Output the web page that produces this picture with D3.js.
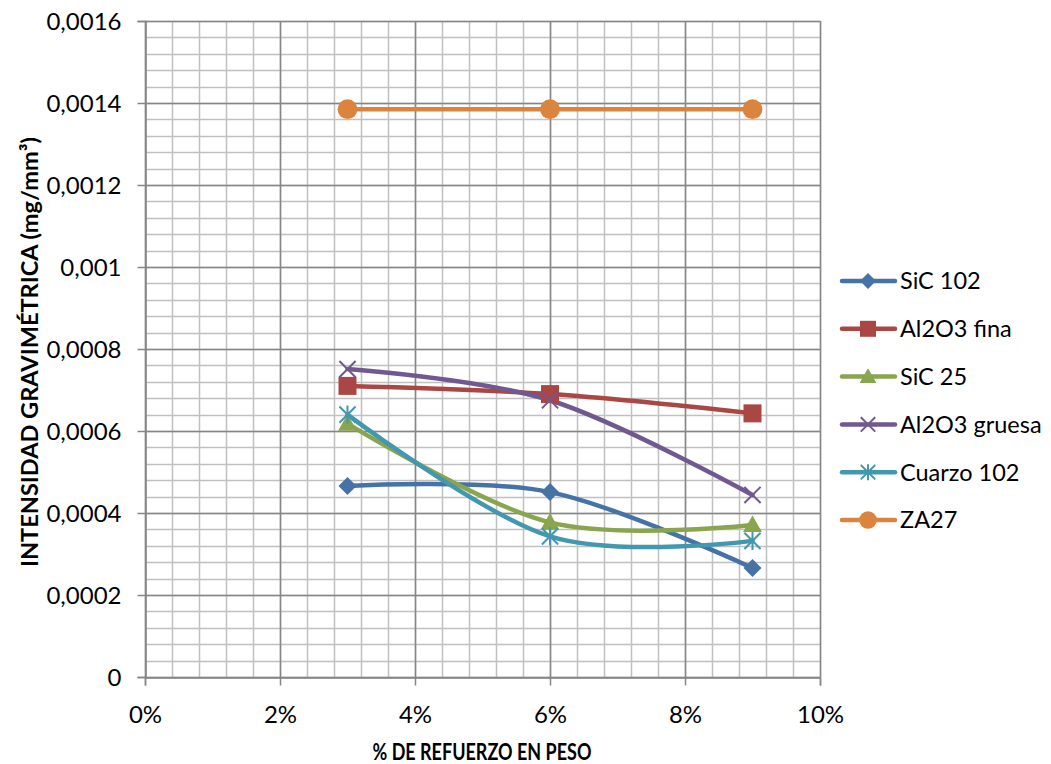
<!DOCTYPE html>
<html>
<head>
<meta charset="utf-8">
<script src="https://cdn.jsdelivr.net/npm/d3@7"></script>
<style>
  html, body { margin: 0; padding: 0; background: #fff; }
  svg text { font-family: Lato, "Open Sans", sans-serif; fill: #000; }
</style>
</head>
<body>
<svg id="chart" width="1051" height="764"></svg>
<script>
// Reinforcement percentages (fraction of weight)
const refuerzo = [0.03, 0.06, 0.09];

// Gravimetric intensity (mg/mm³) for each material
const sic102      = [0.000466, 0.000451, 0.000266];
const al2o3Fina   = [0.000710, 0.000690, 0.000643];
const sic25       = [0.000618, 0.000377, 0.000371];
const al2o3Gruesa = [0.000751, 0.000675, 0.000444];
const cuarzo102   = [0.000640, 0.000343, 0.000332];
const za27        = [0.001385, 0.001385, 0.001385];

const seriesNames = ["SiC 102", "Al2O3 fina", "SiC 25", "Al2O3 gruesa", "Cuarzo 102", "ZA27"];
const xTickValues = [0, 0.02, 0.04, 0.06, 0.08, 0.10];
const yTickValues = [0, 0.0002, 0.0004, 0.0006, 0.0008, 0.001, 0.0012, 0.0014, 0.0016];
const yTickLabels = ["0", "0,0002", "0,0004", "0,0006", "0,0008", "0,001", "0,0012", "0,0014", "0,0016"];
const xTitle = "% DE REFUERZO EN PESO";
const yTitle = "INTENSIDAD GRAVIMÉTRICA (mg/mm³)";

const series = [
  { name: seriesNames[0], values: sic102,      color: "#4572A7", marker: "diamond" },
  { name: seriesNames[1], values: al2o3Fina,   color: "#AA4643", marker: "square" },
  { name: seriesNames[2], values: sic25,       color: "#89A54E", marker: "triangle" },
  { name: seriesNames[3], values: al2o3Gruesa, color: "#71588F", marker: "x" },
  { name: seriesNames[4], values: cuarzo102,   color: "#4198AF", marker: "star" },
  { name: seriesNames[5], values: za27,        color: "#DB843D", marker: "circle" }
];

const svg = d3.select("#chart");
const pLeft = 145, pRight = 820, pTop = 21, pBottom = 677;

const x = d3.scaleLinear().domain([0, 0.10]).range([pLeft, pRight]);
const y = d3.scaleLinear().domain([0, 0.0016]).range([pBottom, pTop]);

// Minor grid
const g = svg.append("g");
const xMinor = d3.range(0, 0.1000001, 0.004);
const yMinor = d3.range(0, 0.00160001, 0.00004);
g.selectAll(".vmin").data(xMinor).join("line")
  .attr("x1", d => Math.round(x(d)) + 0.5).attr("x2", d => Math.round(x(d)) + 0.5)
  .attr("y1", pTop).attr("y2", pBottom)
  .attr("stroke", "#c0c0c0").attr("stroke-width", 1.5);
g.selectAll(".hmin").data(yMinor).join("line")
  .attr("y1", d => Math.round(y(d)) + 0.5).attr("y2", d => Math.round(y(d)) + 0.5)
  .attr("x1", pLeft).attr("x2", pRight)
  .attr("stroke", "#c0c0c0").attr("stroke-width", 1.5);
// Major grid
g.selectAll(".vmaj").data(xTickValues).join("line")
  .attr("x1", d => Math.round(x(d)) + 0.5).attr("x2", d => Math.round(x(d)) + 0.5)
  .attr("y1", pTop).attr("y2", pBottom)
  .attr("stroke", "#868686").attr("stroke-width", 1.5);
g.selectAll(".hmaj").data(yTickValues).join("line")
  .attr("y1", d => Math.round(y(d)) + 0.5).attr("y2", d => Math.round(y(d)) + 0.5)
  .attr("x1", pLeft).attr("x2", pRight)
  .attr("stroke", "#868686").attr("stroke-width", 1.5);

// Axes
const yAxis = d3.axisLeft(y).tickValues(yTickValues)
  .tickFormat((d, i) => yTickLabels[i]).tickSize(8).tickPadding(16);
const ya = svg.append("g").attr("transform", `translate(${pLeft + 0.5},0)`).call(yAxis);
ya.select(".domain").attr("stroke", "#868686").attr("stroke-width", 1.5);
ya.selectAll(".tick line").attr("stroke", "#868686").attr("stroke-width", 1.5);
ya.selectAll(".tick text").style("font-size", "24px").attr("dy", "0.36em");

const xAxis = d3.axisBottom(x).tickValues(xTickValues)
  .tickFormat(d => Math.round(d * 100) + "%").tickSize(8).tickPadding(20);
const xa = svg.append("g").attr("transform", `translate(0,${pBottom + 0.5})`).call(xAxis);
xa.select(".domain").attr("stroke", "#868686").attr("stroke-width", 1.5);
xa.selectAll(".tick line").attr("stroke", "#868686").attr("stroke-width", 1.5);
xa.selectAll(".tick text").style("font-size", "24px");

// Axis titles
svg.append("text").attr("x", 482).attr("y", 760)
  .attr("text-anchor", "middle").style("font-size", "23px").style("font-weight", "bold")
  .attr("textLength", 219).attr("lengthAdjust", "spacingAndGlyphs")
  .text(xTitle);
svg.append("text")
  .attr("transform", `translate(38,352) rotate(-90)`)
  .attr("text-anchor", "middle").style("font-size", "23px").style("font-weight", "bold")
  .attr("textLength", 430).attr("lengthAdjust", "spacingAndGlyphs")
  .text(yTitle);

// Marker drawing
function drawMarker(sel, type, color, s) {
  if (type === "diamond") {
    sel.append("path").attr("d", `M0,${-s}L${s},0L0,${s}L${-s},0Z`).attr("fill", color);
  } else if (type === "square") {
    sel.append("rect").attr("x", -s).attr("y", -s)
      .attr("width", s * 2).attr("height", s * 2).attr("fill", color);
  } else if (type === "triangle") {
    sel.append("path").attr("d", `M0,${-s * 1.05}L${s * 1.05},${s * 0.8}L${-s * 1.05},${s * 0.8}Z`).attr("fill", color);
  } else if (type === "x") {
    const r = s * 0.9;
    sel.append("path").attr("d", `M${-r},${-r}L${r},${r}M${-r},${r}L${r},${-r}`)
      .attr("stroke", color).attr("stroke-width", 2).attr("fill", "none");
  } else if (type === "star") {
    const r = s * 0.9;
    sel.append("path").attr("d", `M${-r},${-r}L${r},${r}M${-r},${r}L${r},${-r}M0,${-s}L0,${s}`)
      .attr("stroke", color).attr("stroke-width", 2).attr("fill", "none");
  } else if (type === "circle") {
    sel.append("circle").attr("r", s * 1.1).attr("fill", color);
  }
}

// Series lines (smoothed) and markers
const line = d3.line()
  .x((d, i) => x(refuerzo[i]))
  .y(d => y(d))
  .curve(d3.curveCatmullRom.alpha(0));

const plot = svg.append("g");
series.forEach(s => {
  plot.append("path").datum(s.values)
    .attr("d", line).attr("fill", "none")
    .attr("stroke", s.color).attr("stroke-width", 4.5)
    .attr("stroke-linecap", "round").attr("stroke-linejoin", "round");
});
series.forEach(s => {
  s.values.forEach((v, i) => {
    const m = plot.append("g").attr("transform", `translate(${x(refuerzo[i])},${y(v)})`);
    drawMarker(m, s.marker, s.color, 9);
  });
});

// Legend
const legend = svg.append("g");
series.forEach((s, i) => {
  const ly = 281 + i * 47.8;
  const item = legend.append("g").attr("transform", `translate(0,${ly})`);
  item.append("line").attr("x1", 842).attr("x2", 895).attr("y1", 0).attr("y2", 0)
    .attr("stroke", s.color).attr("stroke-width", 4.5).attr("stroke-linecap", "round");
  const m = item.append("g").attr("transform", "translate(868,0)");
  drawMarker(m, s.marker, s.color, 8);
  item.append("text").attr("x", 900).attr("y", 0).attr("dy", "0.36em")
    .style("font-size", "23.5px").text(s.name);
});
</script>
</body>
</html>
